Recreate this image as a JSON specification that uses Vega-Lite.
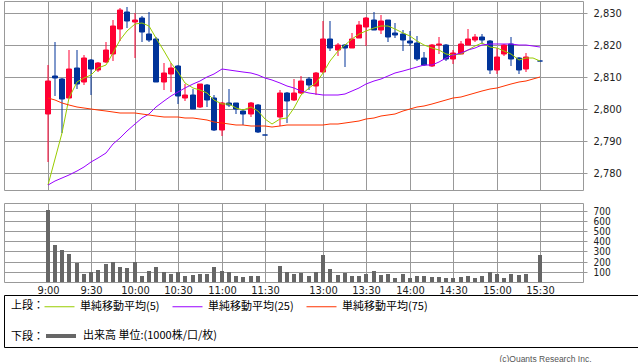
{
  "$schema": "https://vega.github.io/schema/vega-lite/v6.json",
  "padding": {"left": 3, "top": 0, "right": 0, "bottom": 0},
  "background": "white",
  "title": {"text": "(c)Quants Research Inc.", "orient": "bottom", "anchor": "end", "fontSize": 8.5, "fontWeight": "normal", "color": "#555", "font": "Liberation Sans", "dx": -47, "offset": 7},
  "config": {
    "view": {"stroke": "#999"},
    "axis": {"gridColor": "#999", "gridWidth": 1, "gridOpacity": 1, "labelFont": "DejaVu Sans Condensed, DejaVu Sans", "labelFontSize": 11, "labelColor": "#222", "tickColor": "#999", "domain": false, "title": null, "labelOverlap": false, "labelFlush": false, "tickCount": 100},
    "legend": {"labelFont": "Noto Sans CJK JP", "labelFontSize": 11, "labelColor": "#000", "titleFont": "Noto Sans CJK JP", "titleFontSize": 11, "titleFontWeight": "normal", "titleColor": "#000"}
  },
  "datasets": {
    "candles": [
      {"i":0,"o":2798.5,"h":2813.75,"l":2783.5,"c":2808.75},
      {"i":1,"o":2810.2,"h":2821.0,"l":2804.1,"c":2809.8},
      {"i":2,"o":2809.4,"h":2809.6,"l":2792.6,"c":2803.2},
      {"i":3,"o":2803.5,"h":2818.4,"l":2803.3,"c":2812.5},
      {"i":4,"o":2812.8,"h":2818.4,"l":2806.1,"c":2807.7},
      {"i":5,"o":2808.5,"h":2817.0,"l":2807.6,"c":2815.9},
      {"i":6,"o":2815.3,"h":2815.5,"l":2804.4,"c":2812.6},
      {"i":7,"o":2812.3,"h":2814.7,"l":2811.6,"c":2814.4},
      {"i":8,"o":2814.7,"h":2820.9,"l":2814.5,"c":2818.4},
      {"i":9,"o":2817.3,"h":2827.8,"l":2815.0,"c":2825.9},
      {"i":10,"o":2825.1,"h":2831.5,"l":2821.25,"c":2830.9},
      {"i":11,"o":2830.3,"h":2832.0,"l":2825.4,"c":2827.5},
      {"i":12,"o":2827.3,"h":2830.1,"l":2816.0,"c":2827.7},
      {"i":13,"o":2828.5,"h":2829.1,"l":2821.0,"c":2824.2},
      {"i":14,"o":2823.4,"h":2830.3,"l":2821.0,"c":2821.7},
      {"i":15,"o":2821.9,"h":2822.5,"l":2808.3,"c":2808.5},
      {"i":16,"o":2808.5,"h":2814.4,"l":2805.8,"c":2811.25},
      {"i":17,"o":2811.0,"h":2814.4,"l":2805.4,"c":2812.8},
      {"i":18,"o":2813.5,"h":2813.75,"l":2801.7,"c":2804.1},
      {"i":19,"o":2803.5,"h":2807.7,"l":2802.5,"c":2804.4},
      {"i":20,"o":2804.4,"h":2806.1,"l":2800.1,"c":2800.1},
      {"i":21,"o":2800.6,"h":2807.9,"l":2800.2,"c":2807.7},
      {"i":22,"o":2807.5,"h":2807.7,"l":2800.6,"c":2802.7},
      {"i":23,"o":2803.4,"h":2804.4,"l":2793.1,"c":2793.5},
      {"i":24,"o":2793.5,"h":2802.1,"l":2791.6,"c":2801.9},
      {"i":25,"o":2801.9,"h":2806.25,"l":2800.6,"c":2801.25},
      {"i":26,"o":2801.8,"h":2802.0,"l":2798.3,"c":2799.9},
      {"i":27,"o":2799.4,"h":2799.9,"l":2795.0,"c":2798.5},
      {"i":28,"o":2798.3,"h":2802.1,"l":2797.6,"c":2801.9},
      {"i":29,"o":2801.25,"h":2801.5,"l":2792.5,"c":2792.7},
      {"i":30,"o":2791.9,"h":2791.9,"l":2791.9,"c":2791.9},
      {"i":32,"o":2797.5,"h":2805.8,"l":2794.6,"c":2805.0},
      {"i":33,"o":2805.0,"h":2805.4,"l":2795.7,"c":2802.5},
      {"i":34,"o":2802.7,"h":2809.4,"l":2802.5,"c":2805.0},
      {"i":35,"o":2805.0,"h":2810.2,"l":2804.8,"c":2808.75},
      {"i":36,"o":2809.3,"h":2810.0,"l":2805.8,"c":2807.5},
      {"i":37,"o":2807.2,"h":2811.5,"l":2804.4,"c":2811.25},
      {"i":38,"o":2811.5,"h":2827.5,"l":2811.25,"c":2821.9},
      {"i":39,"o":2821.9,"h":2827.5,"l":2818.1,"c":2819.2},
      {"i":40,"o":2818.5,"h":2820.5,"l":2816.7,"c":2820.0},
      {"i":41,"o":2820.0,"h":2820.2,"l":2813.2,"c":2819.2},
      {"i":42,"o":2819.2,"h":2823.6,"l":2819.0,"c":2821.9},
      {"i":43,"o":2822.3,"h":2827.5,"l":2822.1,"c":2826.25},
      {"i":44,"o":2825.7,"h":2828.75,"l":2819.8,"c":2828.5},
      {"i":45,"o":2827.8,"h":2830.3,"l":2824.6,"c":2824.8},
      {"i":46,"o":2824.8,"h":2829.4,"l":2823.5,"c":2827.5},
      {"i":47,"o":2827.7,"h":2827.9,"l":2821.0,"c":2822.6},
      {"i":48,"o":2823.75,"h":2826.9,"l":2822.3,"c":2823.1},
      {"i":49,"o":2823.5,"h":2824.8,"l":2818.1,"c":2821.7},
      {"i":50,"o":2821.25,"h":2824.4,"l":2819.7,"c":2820.6},
      {"i":51,"o":2820.6,"h":2822.8,"l":2815.0,"c":2815.6},
      {"i":52,"o":2815.9,"h":2817.9,"l":2813.4,"c":2813.6},
      {"i":53,"o":2813.4,"h":2820.4,"l":2813.2,"c":2820.1},
      {"i":54,"o":2819.9,"h":2822.5,"l":2817.3,"c":2820.4},
      {"i":55,"o":2820.1,"h":2820.3,"l":2815.0,"c":2815.5},
      {"i":56,"o":2815.5,"h":2818.3,"l":2814.2,"c":2817.5},
      {"i":57,"o":2817.3,"h":2821.25,"l":2817.1,"c":2820.4},
      {"i":58,"o":2820.1,"h":2825.0,"l":2819.9,"c":2821.9},
      {"i":59,"o":2821.7,"h":2823.4,"l":2820.9,"c":2822.5},
      {"i":60,"o":2822.5,"h":2823.4,"l":2820.4,"c":2821.7},
      {"i":61,"o":2821.25,"h":2821.7,"l":2811.0,"c":2812.3},
      {"i":62,"o":2812.3,"h":2819.1,"l":2811.0,"c":2816.25},
      {"i":63,"o":2817.3,"h":2820.4,"l":2816.6,"c":2820.1},
      {"i":64,"o":2820.4,"h":2822.5,"l":2813.4,"c":2815.7},
      {"i":65,"o":2815.9,"h":2816.1,"l":2811.0,"c":2812.3},
      {"i":66,"o":2812.5,"h":2817.5,"l":2811.7,"c":2816.25},
      {"i":68,"o":2815.0,"h":2815.0,"l":2815.0,"c":2815.0}
    ],
    "vol": [
      {"i":0,"v":710},{"i":1,"v":360},{"i":2,"v":311},{"i":3,"v":271},{"i":4,"v":182},{"i":5,"v":83},{"i":6,"v":99},{"i":7,"v":122},{"i":8,"v":172},{"i":9,"v":192},
      {"i":10,"v":152},{"i":11,"v":142},{"i":12,"v":198},{"i":13,"v":63},{"i":14,"v":112},{"i":15,"v":152},{"i":16,"v":99},{"i":17,"v":83},{"i":18,"v":99},{"i":19,"v":63},
      {"i":20,"v":73},{"i":21,"v":83},{"i":22,"v":83},{"i":23,"v":152},{"i":24,"v":112},{"i":25,"v":99},{"i":26,"v":63},{"i":27,"v":53},{"i":28,"v":63},{"i":29,"v":63},
      {"i":32,"v":162},{"i":33,"v":99},{"i":34,"v":83},{"i":35,"v":93},{"i":36,"v":63},{"i":37,"v":99},{"i":38,"v":261},{"i":39,"v":132},
      {"i":40,"v":73},{"i":41,"v":93},{"i":42,"v":63},{"i":43,"v":63},{"i":44,"v":83},{"i":45,"v":112},{"i":46,"v":73},{"i":47,"v":83},{"i":48,"v":43},{"i":49,"v":83},
      {"i":50,"v":43},{"i":51,"v":63},{"i":52,"v":63},{"i":53,"v":53},{"i":54,"v":53},{"i":55,"v":43},{"i":56,"v":43},{"i":57,"v":53},{"i":58,"v":63},{"i":59,"v":43},
      {"i":60,"v":63},{"i":61,"v":99},{"i":62,"v":83},{"i":63,"v":43},{"i":64,"v":83},{"i":65,"v":73},{"i":66,"v":83},{"i":68,"v":261}
    ],
    "ma": [
      {"i":0,"単純移動平均(5)":2776.25,"単純移動平均(25)":2776.25,"単純移動平均(75)":2803.3},
      {"i":1,"単純移動平均(5)":2784.3,"単純移動平均(25)":2777.5,"単純移動平均(75)":2802.8},
      {"i":2,"単純移動平均(5)":2792.6,"単純移動平均(25)":2778.3,"単純移動平均(75)":2802.0},
      {"i":3,"単純移動平均(5)":2803.5,"単純移動平均(25)":2779.4,"単純移動平均(75)":2801.25},
      {"i":4,"単純移動平均(5)":2808.4,"単純移動平均(25)":2780.6,"単純移動平均(75)":2800.7},
      {"i":5,"単純移動平均(5)":2809.8,"単純移動平均(25)":2781.9,"単純移動平均(75)":2800.4},
      {"i":6,"単純移動平均(5)":2810.6,"単純移動平均(25)":2783.3,"単純移動平均(75)":2800.1},
      {"i":7,"単純移動平均(5)":2812.9,"単純移動平均(25)":2784.8,"単純移動平均(75)":2799.8},
      {"i":8,"単純移動平均(5)":2813.6,"単純移動平均(25)":2786.4,"単純移動平均(75)":2799.4},
      {"i":9,"単純移動平均(5)":2817.6,"単純移動平均(25)":2789.0,"単純移動平均(75)":2799.1},
      {"i":10,"単純移動平均(5)":2821.5,"単純移動平均(25)":2791.0,"単純移動平均(75)":2798.9},
      {"i":11,"単純移動平均(5)":2824.4,"単純移動平均(25)":2793.1,"単純移動平均(75)":2798.8},
      {"i":12,"単純移動平均(5)":2826.5,"単純移動平均(25)":2795.2,"単純移動平均(75)":2798.75},
      {"i":13,"単純移動平均(5)":2827.0,"単純移動平均(25)":2797.1,"単純移動平均(75)":2798.4},
      {"i":14,"単純移動平均(5)":2825.9,"単純移動平均(25)":2798.3,"単純移動平均(75)":2798.1},
      {"i":15,"単純移動平均(5)":2822.3,"単純移動平均(25)":2800.6,"単純移動平均(75)":2797.8},
      {"i":16,"単純移動平均(5)":2818.1,"単純移動平均(25)":2802.5,"単純移動平均(75)":2797.6},
      {"i":17,"単純移動平均(5)":2814.5,"単純移動平均(25)":2804.1,"単純移動平均(75)":2797.6},
      {"i":18,"単純移動平均(5)":2811.7,"単純移動平均(25)":2805.4,"単純移動平均(75)":2797.4},
      {"i":19,"単純移動平均(5)":2808.2,"単純移動平均(25)":2806.7,"単純移動平均(75)":2797.3},
      {"i":20,"単純移動平均(5)":2806.5,"単純移動平均(25)":2807.7,"単純移動平均(75)":2797.1},
      {"i":21,"単純移動平均(5)":2805.8,"単純移動平均(25)":2808.75,"単純移動平均(75)":2796.8},
      {"i":22,"単純移動平均(5)":2805.1,"単純移動平均(25)":2810.0,"単純移動平均(75)":2796.5},
      {"i":23,"単純移動平均(5)":2802.9,"単純移動平均(25)":2811.0,"単純移動平均(75)":2796.1},
      {"i":24,"単純移動平均(5)":2801.5,"単純移動平均(25)":2812.4,"単純移動平均(75)":2795.7},
      {"i":25,"単純移動平均(5)":2801.5,"単純移動平均(25)":2812.2,"単純移動平均(75)":2795.2},
      {"i":26,"単純移動平均(5)":2800.2,"単純移動平均(25)":2811.9,"単純移動平均(75)":2795.0},
      {"i":27,"単純移動平均(5)":2799.6,"単純移動平均(25)":2811.6,"単純移動平均(75)":2794.9},
      {"i":28,"単純移動平均(5)":2800.6,"単純移動平均(25)":2811.35,"単純移動平均(75)":2794.8},
      {"i":29,"単純移動平均(5)":2799.4,"単純移動平均(25)":2810.6,"単純移動平均(75)":2794.8},
      {"i":30,"単純移動平均(5)":2796.8,"単純移動平均(25)":2809.8,"単純移動平均(75)":2794.8},
      {"i":31,"単純移動平均(5)":2795.4,"単純移動平均(25)":2809.0,"単純移動平均(75)":2794.5},
      {"i":32,"単純移動平均(5)":2796.8,"単純移動平均(25)":2808.2,"単純移動平均(75)":2794.7},
      {"i":33,"単純移動平均(5)":2797.1,"単純移動平均(25)":2807.2,"単純移動平均(75)":2794.9},
      {"i":34,"単純移動平均(5)":2800.4,"単純移動平均(25)":2806.5,"単純移動平均(75)":2795.0},
      {"i":35,"単純移動平均(5)":2804.3,"単純移動平均(25)":2805.6,"単純移動平均(75)":2794.9},
      {"i":36,"単純移動平均(5)":2806.5,"単純移動平均(25)":2805.1,"単純移動平均(75)":2795.0},
      {"i":37,"単純移動平均(5)":2808.2,"単純移動平均(25)":2804.6,"単純移動平均(75)":2795.0},
      {"i":38,"単純移動平均(5)":2811.35,"単純移動平均(25)":2804.3,"単純移動平均(75)":2795.1},
      {"i":39,"単純移動平均(5)":2815.0,"単純移動平均(25)":2804.3,"単純移動平均(75)":2795.3},
      {"i":40,"単純移動平均(5)":2818.1,"単純移動平均(25)":2804.4,"単純移動平均(75)":2795.4},
      {"i":41,"単純移動平均(5)":2820.0,"単純移動平均(25)":2804.8,"単純移動平均(75)":2795.6},
      {"i":42,"単純移動平均(5)":2821.8,"単純移動平均(25)":2805.6,"単純移動平均(75)":2795.9},
      {"i":43,"単純移動平均(5)":2823.3,"単純移動平均(25)":2806.5,"単純移動平均(75)":2796.4},
      {"i":44,"単純移動平均(5)":2824.4,"単純移動平均(25)":2807.7,"単純移動平均(75)":2796.9},
      {"i":45,"単純移動平均(5)":2825.4,"単純移動平均(25)":2808.75,"単純移動平均(75)":2797.3},
      {"i":46,"単純移動平均(5)":2825.9,"単純移動平均(25)":2809.5,"単純移動平均(75)":2797.7},
      {"i":47,"単純移動平均(5)":2825.8,"単純移動平均(25)":2810.3,"単純移動平均(75)":2798.1},
      {"i":48,"単純移動平均(5)":2825.1,"単純移動平均(25)":2811.35,"単純移動平均(75)":2798.6},
      {"i":49,"単純移動平均(5)":2823.9,"単純移動平均(25)":2811.9,"単純移動平均(75)":2799.3},
      {"i":50,"単純移動平均(5)":2822.8,"単純移動平均(25)":2812.4,"単純移動平均(75)":2800.0},
      {"i":51,"単純移動平均(5)":2821.3,"単純移動平均(25)":2813.1,"単純移動平均(75)":2800.6},
      {"i":52,"単純移動平均(5)":2820.1,"単純移動平均(25)":2813.6,"単純移動平均(75)":2801.1},
      {"i":53,"単純移動平均(5)":2819.2,"単純移動平均(25)":2813.9,"単純移動平均(75)":2801.7},
      {"i":54,"単純移動平均(5)":2818.3,"単純移動平均(25)":2814.7,"単純移動平均(75)":2802.2},
      {"i":55,"単純移動平均(5)":2817.3,"単純移動平均(25)":2816.0,"単純移動平均(75)":2802.8},
      {"i":56,"単純移動平均(5)":2816.9,"単純移動平均(25)":2816.9,"単純移動平均(75)":2803.3},
      {"i":57,"単純移動平均(5)":2817.3,"単純移動平均(25)":2817.6,"単純移動平均(75)":2803.9},
      {"i":58,"単純移動平均(5)":2818.3,"単純移動平均(25)":2818.3,"単純移動平均(75)":2804.4},
      {"i":59,"単純移動平均(5)":2819.7,"単純移動平均(25)":2819.2,"単純移動平均(75)":2805.0},
      {"i":60,"単純移動平均(5)":2820.7,"単純移動平均(25)":2820.0,"単純移動平均(75)":2805.5},
      {"i":61,"単純移動平均(5)":2819.4,"単純移動平均(25)":2820.4,"単純移動平均(75)":2806.1},
      {"i":62,"単純移動平均(5)":2819.2,"単純移動平均(25)":2820.4,"単純移動平均(75)":2806.6},
      {"i":63,"単純移動平均(5)":2818.1,"単純移動平均(25)":2820.4,"単純移動平均(75)":2807.2},
      {"i":64,"単純移動平均(5)":2817.1,"単純移動平均(25)":2820.2,"単純移動平均(75)":2807.7},
      {"i":65,"単純移動平均(5)":2815.2,"単純移動平均(25)":2820.0,"単純移動平均(75)":2808.3},
      {"i":66,"単純移動平均(5)":2816.0,"単純移動平均(25)":2819.9,"単純移動平均(75)":2808.8},
      {"i":67,"単純移動平均(5)":2816.0,"単純移動平均(25)":2819.6,"単純移動平均(75)":2809.4},
      {"i":68,"単純移動平均(5)":2815.0,"単純移動平均(25)":2819.4,"単純移動平均(75)":2809.9}
    ]
  },
  "bounds": "flush",
  "spacing": 13,
  "vconcat": [
    {
      "width": 579,
      "height": 189,
      "encoding": {
        "x": {"field": "i", "type": "quantitative", "scale": {"domain": [-5.35, 73.2], "nice": false, "zero": false, "round": true},
              "axis": {"values": [0,6,12,18,24,30,38,44,50,56,62,68], "labels": false, "ticks": false, "grid": true}}
      },
      "layer": [
        {
          "data": {"name": "candles"},
          "mark": {"type": "rule", "strokeWidth": 1},
          "encoding": {
            "y": {"field": "l", "type": "quantitative", "scale": {"domain": [2774.7, 2833.75], "nice": false, "zero": false, "round": true},
                  "axis": {"orient": "right", "values": [2780,2790,2800,2810,2820,2830], "format": ",d", "tickSize": 4, "labelPadding": 6, "grid": true}},
            "y2": {"field": "h"},
            "color": {"condition": {"test": "datum.c > datum.o", "value": "#ff0033"}, "value": "#003399"}
          }
        },
        {
          "data": {"name": "candles"},
          "mark": {"type": "bar", "size": 5, "strokeWidth": 1},
          "encoding": {
            "y": {"field": "o", "type": "quantitative"},
            "y2": {"field": "c"},
            "fill": {"condition": {"test": "datum.c > datum.o", "value": "#ff0033"}, "value": "#003399"},
            "stroke": {"condition": {"test": "datum.c > datum.o", "value": "#ff0033"}, "value": "#003399"}
          }
        },
        {
          "data": {"name": "ma"},
          "transform": [{"fold": ["単純移動平均(5)", "単純移動平均(25)", "単純移動平均(75)"], "as": ["s", "v"]}],
          "mark": {"type": "line", "strokeWidth": 1},
          "encoding": {
            "y": {"field": "v", "type": "quantitative"},
            "stroke": {"field": "s", "type": "nominal",
              "scale": {"domain": ["単純移動平均(5)", "単純移動平均(25)", "単純移動平均(75)"], "range": ["#99cc00", "#9900ff", "#ff3300"]},
              "legend": {"orient": "none", "legendX": 7, "legendY": 300, "direction": "horizontal", "title": "上段：", "titleOrient": "left", "titlePadding": 10,
                         "symbolType": "M-3,0H3", "symbolSize": 100, "symbolStrokeWidth": 1, "labelOffset": 15, "columnPadding": 10}}
          }
        }
      ]
    },
    {
      "width": 579,
      "height": 79,
      "encoding": {
        "x": {"field": "i", "type": "quantitative", "scale": {"domain": [-5.35, 73.2], "nice": false, "zero": false, "round": true},
              "axis": {"values": [0,6,12,18,24,30,38,44,50,56,62,68], "ticks": false, "grid": true, "labelPadding": 2,
                       "labelExpr": "datum.value==0?'9:00':datum.value==6?'9:30':datum.value==12?'10:00':datum.value==18?'10:30':datum.value==24?'11:00':datum.value==30?'11:30':datum.value==38?'13:00':datum.value==44?'13:30':datum.value==50?'14:00':datum.value==56?'14:30':datum.value==62?'15:00':'15:30'"}}
      },
      "layer": [
        {
          "data": {"name": "vol"},
          "mark": {"type": "bar", "size": 4},
          "encoding": {
            "y": {"field": "v", "type": "quantitative", "scale": {"domain": [0, 776], "nice": false, "round": true},
                  "axis": {"orient": "right", "values": [100,200,300,400,500,600,700], "tickSize": 4, "labelPadding": 6, "grid": true, "labelFontSize": 10}},
            "fill": {"datum": "出来高 単位:(1000株/口/枚)", "type": "nominal", "scale": {"range": ["#666666"]},
              "legend": {"orient": "none", "legendX": 7, "legendY": 328, "title": "下段：", "titleOrient": "left", "titlePadding": 10,
                         "symbolType": "M-3,0H3", "symbolSize": 100, "labelOffset": 15,
                         "encode": {"symbols": {"update": {"stroke": {"value": "#666666"}, "strokeWidth": {"value": 4}}}}}}
          }
        },
        {
          "data": {"values": [{"label": "単位: 1000"}]},
          "mark": {"type": "text", "align": "left", "baseline": "middle", "font": "Noto Sans CJK JP", "fontSize": 11, "color": "#000"},
          "encoding": {
            "x": {"datum": -4.67},
            "y": {"datum": 708, "type": "quantitative"},
            "text": {"field": "label"}
          }
        }
      ]
    },
    {
      "width": 634,
      "height": 52,
      "view": {"stroke": "#000"},
      "data": {"values": [{"a": 1}]},
      "mark": {"type": "point", "opacity": 0},
      "encoding": {}
    }
  ]
}
